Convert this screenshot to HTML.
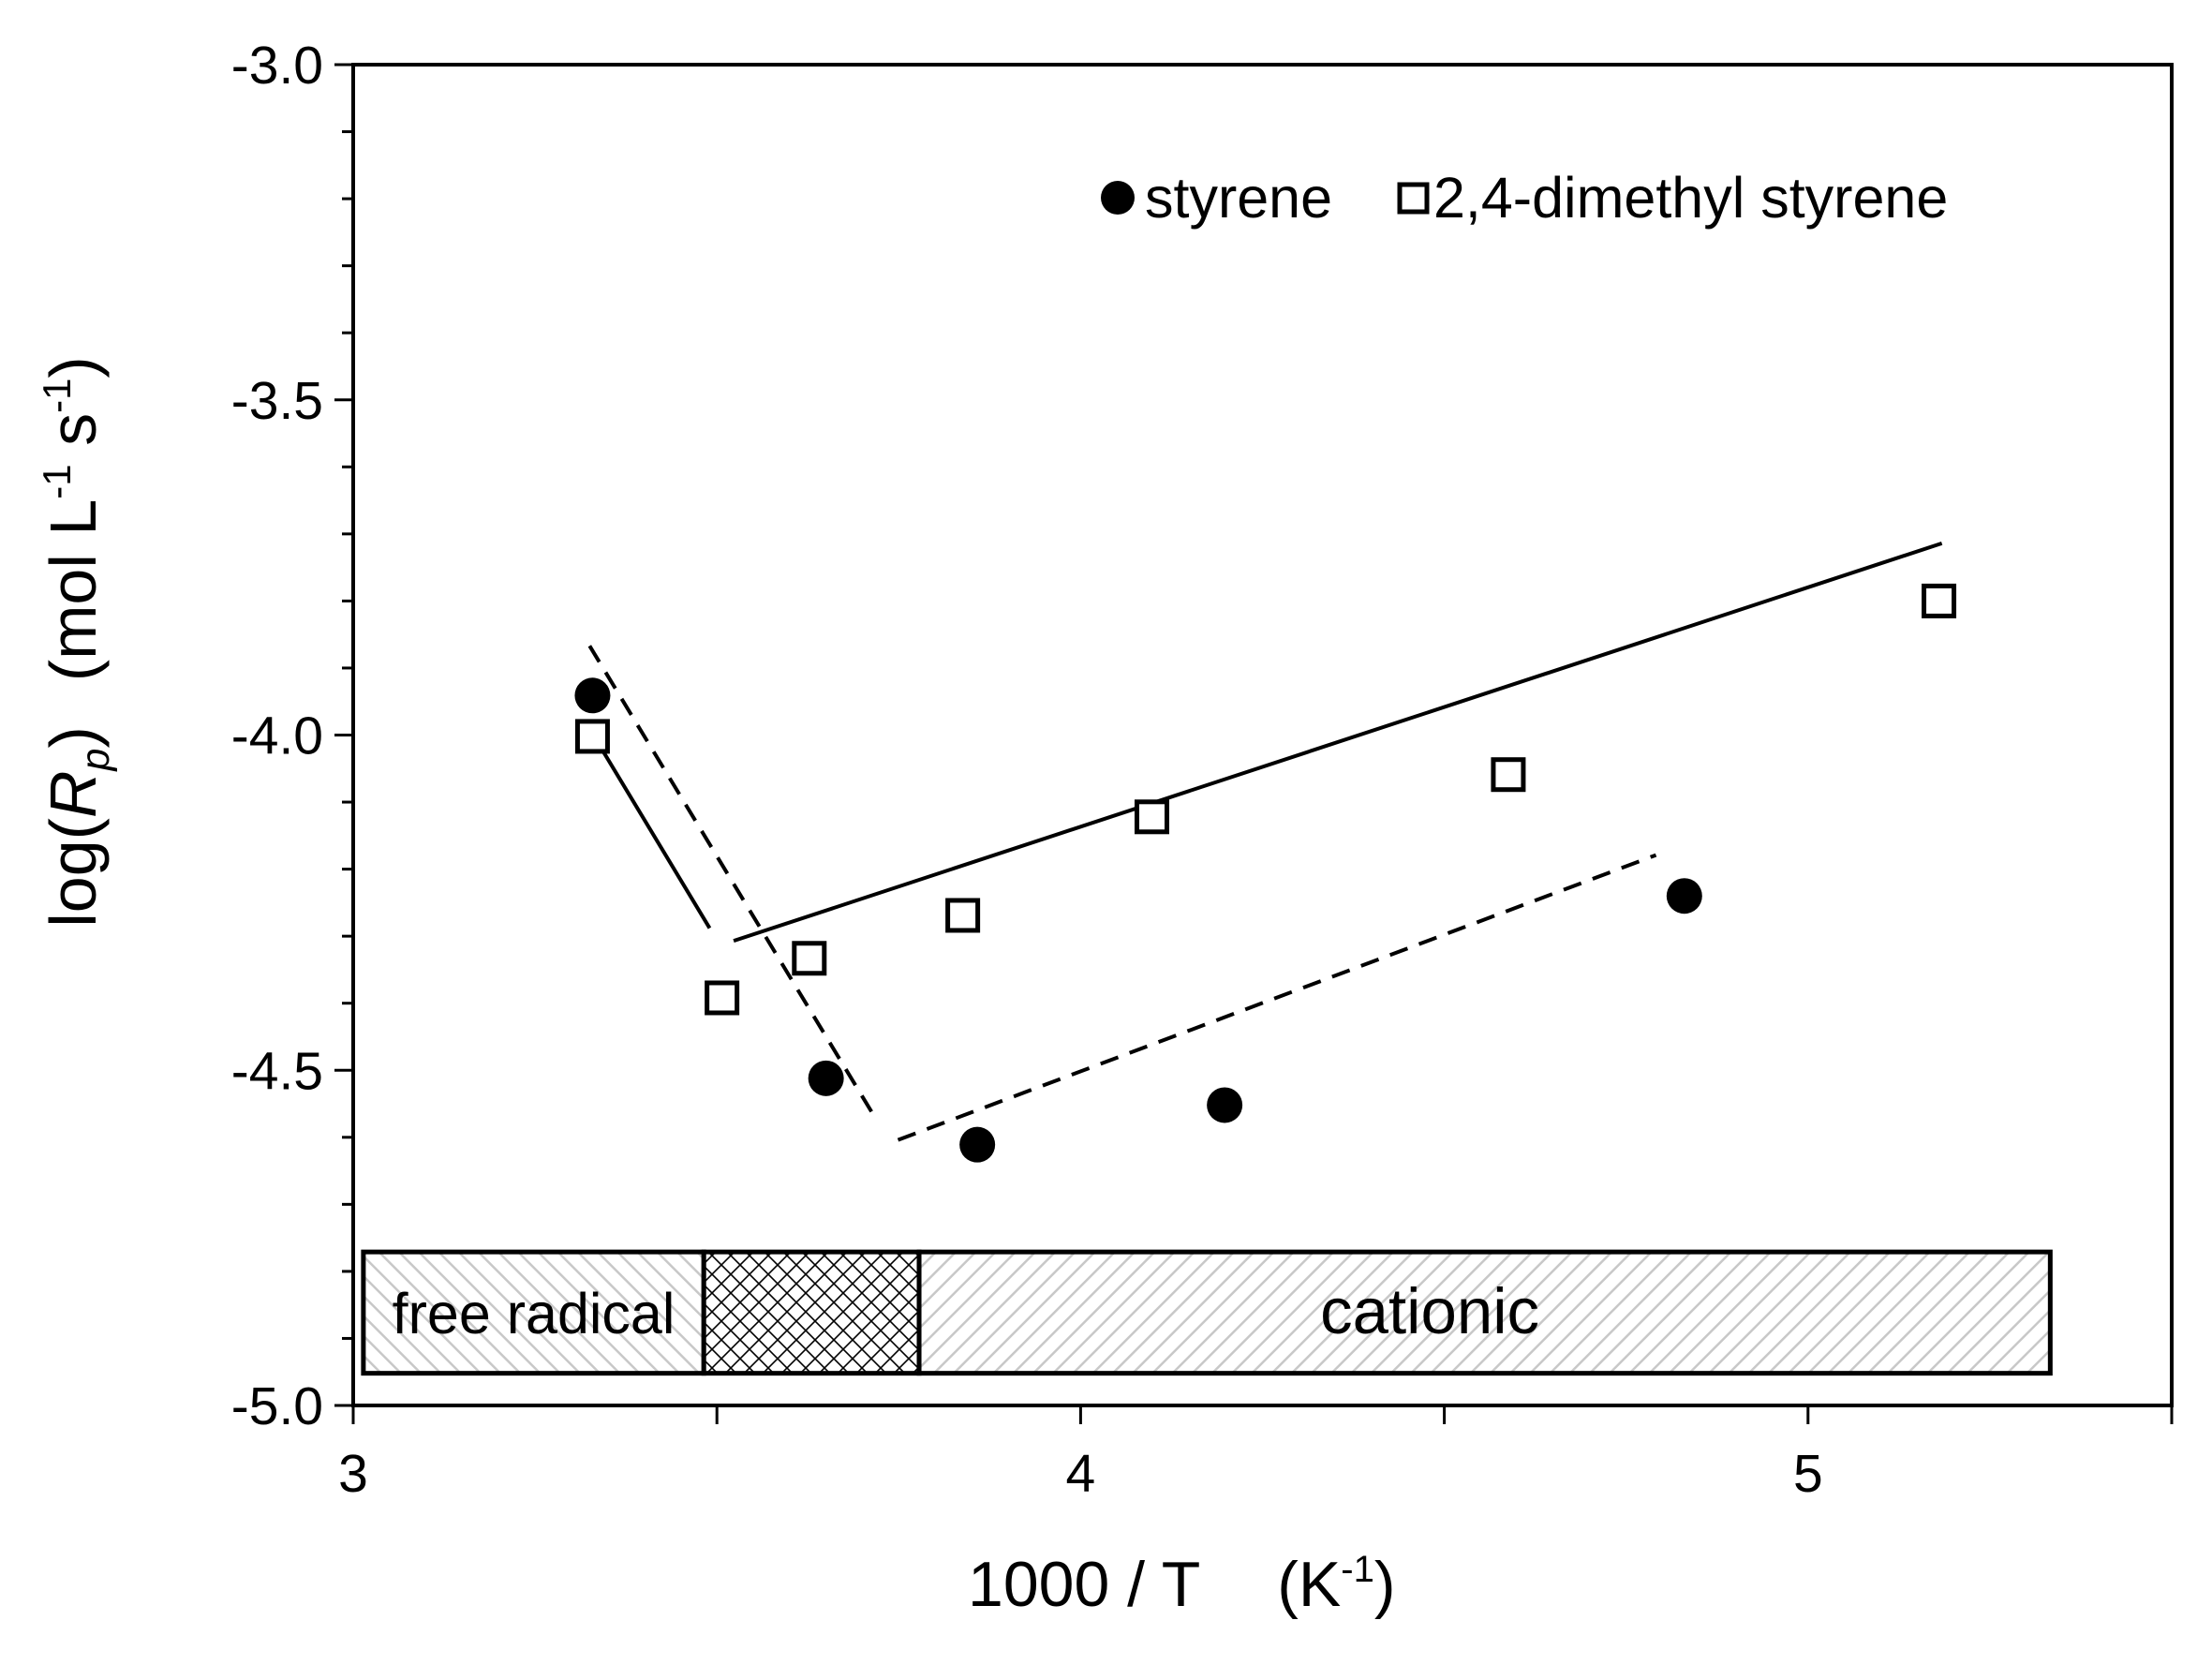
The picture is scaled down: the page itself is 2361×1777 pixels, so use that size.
<!DOCTYPE html>
<html><head><meta charset="utf-8"><style>
html,body{margin:0;padding:0;background:#fff;}
svg{display:block;font-family:"Liberation Sans",Arial,sans-serif;}
</style></head><body>
<svg id="chart" width="2361" height="1777" viewBox="0 0 2361 1777" xmlns="http://www.w3.org/2000/svg">
<defs>
<pattern id="hatchB" patternUnits="userSpaceOnUse" width="15" height="15" patternTransform="rotate(-45)">
<rect width="15" height="15" fill="#fff"/><line x1="0" y1="0" x2="0" y2="15" stroke="#c8c8c8" stroke-width="5"/></pattern>
<pattern id="hatchF" patternUnits="userSpaceOnUse" width="15" height="15" patternTransform="rotate(45)">
<rect width="15" height="15" fill="#fff"/><line x1="0" y1="0" x2="0" y2="15" stroke="#c8c8c8" stroke-width="5"/></pattern>
<pattern id="cross" patternUnits="userSpaceOnUse" width="20" height="20">
<rect width="20" height="20" fill="#fff"/><path d="M0,0 L20,20 M20,0 L0,20" stroke="#000" stroke-width="1.6"/></pattern>
</defs>
<g id="plot"></g>
</svg>
<script>
const xTicks = [3, 3.5, 4, 4.5, 5, 5.5];
const xTickLabels = ["3", "", "4", "", "5", ""];
const yMajor = [-3.0, -3.5, -4.0, -4.5, -5.0];
const yMajorLabels = ["-3.0", "-3.5", "-4.0", "-4.5", "-5.0"];
const yMinor = [-3.1,-3.2,-3.3,-3.4,-3.6,-3.7,-3.8,-3.9,-4.1,-4.2,-4.3,-4.4,-4.6,-4.7,-4.8,-4.9];
const styX = [3.329, 3.650, 3.858, 4.198, 4.830];
const styY = [-3.941, -4.512, -4.611, -4.552, -4.240];
const dmsX = [3.329, 3.507, 3.627, 3.838, 4.098, 4.588, 5.180];
const dmsY = [-4.002, -4.392, -4.333, -4.269, -4.122, -4.059, -3.800];
const solidFitX1 = [3.329, 3.490]; const solidFitY1 = [-3.998, -4.288];
const solidFitX2 = [3.523, 5.184]; const solidFitY2 = [-4.307, -3.714];
const dashFitX1 = [3.325, 3.716]; const dashFitY1 = [-3.867, -4.568];
const dashFitX2 = [3.749, 4.791]; const dashFitY2 = [-4.604, -4.179];
const regionNames = ["free radical", "", "cationic"];
const regionLabelX = [3.248, 0, 4.48];
const regionStart = [3.014, 3.482, 3.778];
const regionEnd = [3.482, 3.778, 5.333];
const regionTop = -4.771, regionBottom = -4.952;

const X0=377, X1=2318, Y0=69, Y1=1500;
const sx = v => X0 + (v-3)/(5.5-3)*(X1-X0);
const sy = v => Y0 + (-3 - v)/2*(Y1-Y0);
const NS="http://www.w3.org/2000/svg";
const g=document.getElementById('plot');
function mk(tag, attrs, parent){const e=document.createElementNS(NS,tag);for(const k in attrs)e.setAttribute(k,attrs[k]);(parent||g).appendChild(e);return e;}

const fills=["url(#hatchB)","url(#cross)","url(#hatchF)"];
for(let i=0;i<regionStart.length;i++){
  const r=mk('rect',{x:sx(regionStart[i]),y:sy(regionTop),width:sx(regionEnd[i])-sx(regionStart[i]),height:sy(regionBottom)-sy(regionTop),fill:fills[i],stroke:'#000','stroke-width':5});
  
  
  if(regionNames[i]){
    const t=mk('text',{x:sx(regionLabelX[i]),y:(sy(regionTop)+sy(regionBottom))/2+22,'text-anchor':'middle','font-size':i===0?61:69,fill:'#000'});
    t.textContent=regionNames[i];
    
    
  }
}

const fr=mk('rect',{x:X0,y:Y0,width:X1-X0,height:Y1-Y0,fill:'none',stroke:'#000','stroke-width':4});



yMajor.forEach((v,i)=>{
  mk('line',{x1:X0-20,x2:X0,y1:sy(v),y2:sy(v),stroke:'#000','stroke-width':3});
  const t=mk('text',{x:345,y:sy(v)+20,'text-anchor':'end','font-size':57});
  t.textContent=yMajorLabels[i];
  
  
});
yMinor.forEach(v=>{mk('line',{x1:X0-12,x2:X0,y1:sy(v),y2:sy(v),stroke:'#000','stroke-width':3});});
xTicks.forEach((v,i)=>{
  mk('line',{x1:sx(v),x2:sx(v),y1:Y1,y2:Y1+20,stroke:'#000','stroke-width':3});
  if(xTickLabels[i]){
    const t=mk('text',{x:sx(v),y:1592,'text-anchor':'middle','font-size':57});
    t.textContent=xTickLabels[i];
    
    
  }
});

function line(xs,ys,dash,name){
  const l=mk('line',{x1:sx(xs[0]),y1:sy(ys[0]),x2:sx(xs[1]),y2:sy(ys[1]),stroke:'#000','stroke-width':4,'stroke-dasharray':dash?'20,13':'none'});
  
  
}
line(solidFitX1,solidFitY1,false,'dms-fit-radical');
line(solidFitX2,solidFitY2,false,'dms-fit-cationic');
line(dashFitX1,dashFitY1,true,'styrene-fit-radical');
line(dashFitX2,dashFitY2,true,'styrene-fit-cationic');

styX.forEach((x,i)=>{
  const c=mk('circle',{cx:sx(x),cy:sy(styY[i]),r:19,fill:'#000'});
  
  
});
dmsX.forEach((x,i)=>{
  const r=mk('rect',{x:sx(x)-16,y:sy(dmsY[i])-16,width:32,height:32,fill:'#fff',stroke:'#000','stroke-width':5});
  
  
});
</script>
<svg style="position:absolute;left:0;top:0" width="2361" height="1777">
<g font-family="Liberation Sans, Arial, sans-serif" fill="#000">
<circle cx="1193" cy="211" r="18" fill="#000"/>
<text x="1222" y="232" font-size="61">styrene</text>
<rect x="1494" y="197" width="29" height="29" fill="#fff" stroke="#000" stroke-width="5"/>
<text x="1530" y="232" font-size="61">2,4-dimethyl styrene</text>
<text x="1033" y="1714" font-size="68">1000 / T<tspan dx="82">(K</tspan><tspan font-size="40" dy="-26">-1</tspan><tspan dy="26">)</tspan></text>
<text transform="translate(102,685) rotate(-90)" text-anchor="middle" font-size="70">log(<tspan font-style="italic">R</tspan><tspan font-style="italic" font-size="43" dy="14">p</tspan><tspan dy="-14">)</tspan><tspan dx="48">(mol L</tspan><tspan font-size="42" dy="-27">-1</tspan><tspan dy="27"> s</tspan><tspan font-size="42" dy="-27">-1</tspan><tspan dy="27">)</tspan></text>
</g>
</svg>
</body></html>
